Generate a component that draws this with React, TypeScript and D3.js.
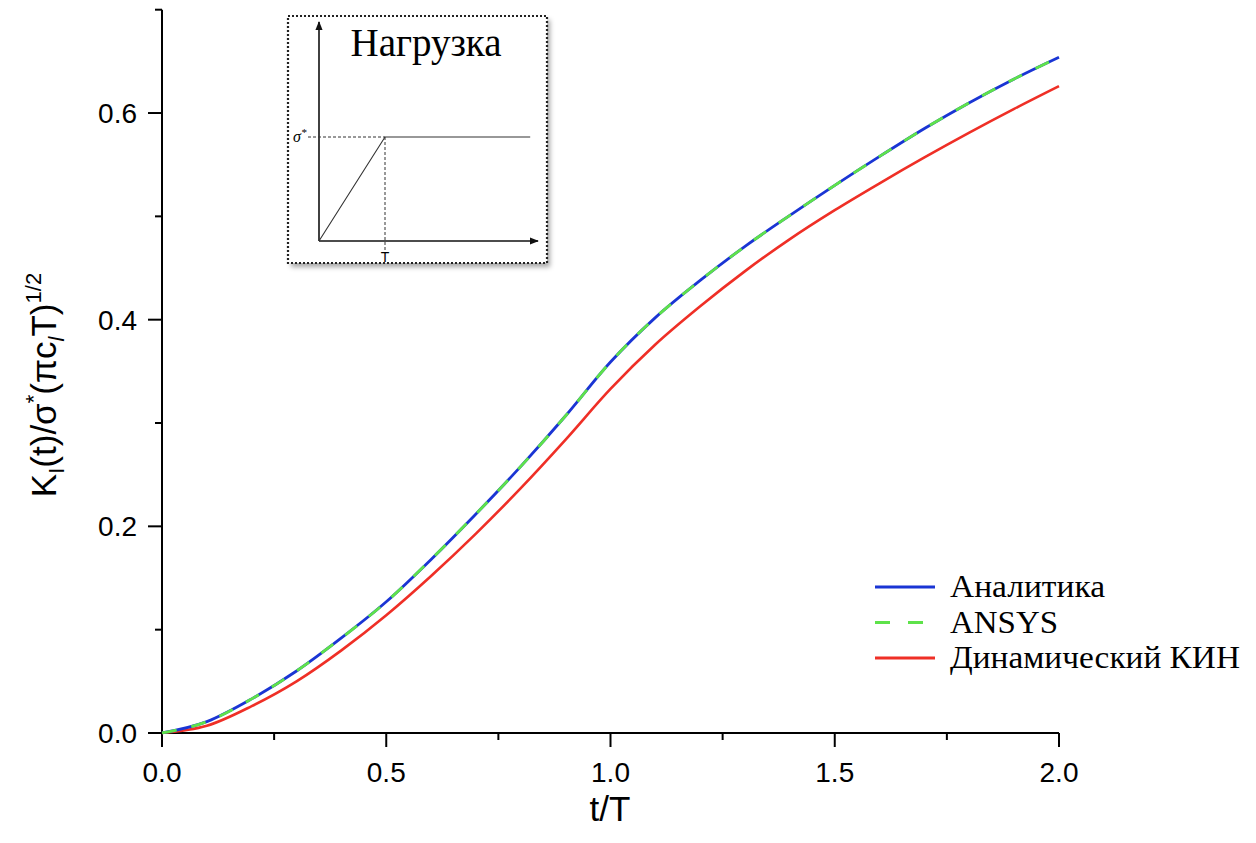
import React from "react";
import * as d3 from "d3";

// ---------- data ----------
const tValues = [0, 0.1, 0.2, 0.3, 0.4, 0.5, 0.6, 0.7, 0.8, 0.9, 1.0, 1.1, 1.2, 1.3, 1.4, 1.5, 1.6, 1.7, 1.8, 1.9, 2.0];
const analytic = [0, 0.011, 0.033, 0.06, 0.092, 0.127, 0.168, 0.212, 0.258, 0.307, 0.359, 0.402, 0.438, 0.471, 0.501, 0.53, 0.558, 0.585, 0.61, 0.633, 0.654];
const ansys = [0, 0.011, 0.033, 0.06, 0.092, 0.127, 0.168, 0.212, 0.258, 0.307, 0.359, 0.402, 0.438, 0.471, 0.501, 0.53, 0.558, 0.585, 0.61, 0.633, 0.654];
const dynamicKIN = [0, 0.007, 0.026, 0.05, 0.08, 0.114, 0.152, 0.193, 0.237, 0.284, 0.333, 0.376, 0.413, 0.447, 0.478, 0.506, 0.532, 0.557, 0.581, 0.604, 0.626];

const xMajorTicks = [0, 0.5, 1.0, 1.5, 2.0];
const xMinorTicks = [0.25, 0.75, 1.25, 1.75];
const yMajorTicks = [0, 0.2, 0.4, 0.6];
const yMinorTicks = [0.1, 0.3, 0.5, 0.7];

const seriesNames = ["Аналитика", "ANSYS", "Динамический КИН"];
const seriesColors = ["#1a35d4", "#5ee24a", "#ef2f26"];

// inset (load schematic)
const loadT = [0, 1, 3.2];
const loadS = [0, 1, 1];
const insetTitle = "Нагрузка";

export default function App() {
  const W = 1256, H = 843;
  const x = d3.scaleLinear().domain([0, 2]).range([162, 1059]);
  const y = d3.scaleLinear().domain([0, 0.7]).range([733, 9.7]);

  const line = d3
    .line<number>()
    .x((_, i) => x(tValues[i]))
    .y((d) => y(d))
    .curve(d3.curveMonotoneX);

  const sans = "'Liberation Sans', Arial, sans-serif";
  const serif = "'Liberation Serif', 'Times New Roman', serif";

  // inset scales
  const ix = d3.scaleLinear().domain([0, 1]).range([319, 385]);
  const iy = d3.scaleLinear().domain([0, 1]).range([241, 137]);
  const loadLine = d3
    .line<number>()
    .x((_, i) => ix(loadT[i]))
    .y((d) => iy(d));

  const legendY = [587, 622.5, 658];
  const legendTextLen = [155, 108, 290];

  return (
    <svg
      width={W}
      height={H}
      style={{ position: "absolute", left: 0, top: 0, background: "#fff" }}
      xmlns="http://www.w3.org/2000/svg"
    >
      <defs>
        <filter id="shadow" x="-10%" y="-10%" width="130%" height="130%">
          <feDropShadow dx="3" dy="4" stdDeviation="2.5" floodColor="#000" floodOpacity="0.35" />
        </filter>
        <marker id="arrow" viewBox="0 0 10 10" refX="9" refY="5" markerWidth="9" markerHeight="9" markerUnits="userSpaceOnUse" orient="auto">
          <path d="M0,1 L10,5 L0,9 z" fill="#111" />
        </marker>
      </defs>

      {/* axes */}
      <line x1={x(0)} x2={x(2)} y1={y(0)} y2={y(0)} stroke="#000" strokeWidth={2} />
      <line x1={x(0)} x2={x(0)} y1={y(0)} y2={y(0.7)} stroke="#000" strokeWidth={2} />

      {xMajorTicks.map((t) => (
        <g key={"xm" + t}>
          <line x1={x(t)} x2={x(t)} y1={y(0)} y2={y(0) + 14} stroke="#000" strokeWidth={2} />
          <text x={x(t)} y={782} textAnchor="middle" fontFamily={sans} fontSize={28}>
            {t.toFixed(1)}
          </text>
        </g>
      ))}
      {xMinorTicks.map((t) => (
        <line key={"xn" + t} x1={x(t)} x2={x(t)} y1={y(0)} y2={y(0) + 7} stroke="#000" strokeWidth={2} />
      ))}
      {yMajorTicks.map((v) => (
        <g key={"ym" + v}>
          <line x1={x(0) - 14} x2={x(0)} y1={y(v)} y2={y(v)} stroke="#000" strokeWidth={2} />
          <text x={137} y={y(v) + 10} textAnchor="end" fontFamily={sans} fontSize={28}>
            {v.toFixed(1)}
          </text>
        </g>
      ))}
      {yMinorTicks.map((v) => (
        <line key={"yn" + v} x1={x(0) - 7} x2={x(0)} y1={y(v)} y2={y(v)} stroke="#000" strokeWidth={2} />
      ))}

      {/* axis titles */}
      <text x={610} y={821} textAnchor="middle" fontFamily={sans} fontSize={35}>
        t/T
      </text>
      <text transform="translate(56,385) rotate(-90)" textAnchor="middle" fontFamily={sans} fontSize={35}>
        K<tspan fontSize={22} dy={8}>I</tspan>
        <tspan dy={-8}>(t)/σ</tspan>
        <tspan fontSize={22} dy={-15}>*</tspan>
        <tspan dy={15}>(πc</tspan>
        <tspan fontSize={22} dy={8} fontStyle="italic">l</tspan>
        <tspan dy={-8}>T)</tspan>
        <tspan fontSize={22} dy={-15}>1/2</tspan>
      </text>

      {/* curves */}
      <path d={line(dynamicKIN) || ""} fill="none" stroke={seriesColors[2]} strokeWidth={2.6} />
      <path d={line(analytic) || ""} fill="none" stroke={seriesColors[0]} strokeWidth={2.8} />
      <path d={line(ansys) || ""} fill="none" stroke={seriesColors[1]} strokeWidth={2.8} strokeDasharray="15,15" />

      {/* legend */}
      {seriesNames.map((name, i) => (
        <g key={name}>
          <line
            x1={875}
            x2={935}
            y1={legendY[i]}
            y2={legendY[i]}
            stroke={seriesColors[i]}
            strokeWidth={2.8}
            strokeDasharray={i === 1 ? "15,18" : undefined}
          />
          <text
            x={950}
            y={legendY[i] + 10}
            fontFamily={serif}
            fontSize={32}
            textLength={legendTextLen[i]}
            lengthAdjust="spacingAndGlyphs"
          >
            {name}
          </text>
        </g>
      ))}

      {/* inset */}
      <g>
        <rect x={288} y={16} width={259} height={247} fill="#fff" filter="url(#shadow)" />
        <rect x={288} y={16} width={259} height={247} fill="#fff" stroke="#222" strokeWidth={2.2} strokeDasharray="2,2" />
        <text x={426} y={56} textAnchor="middle" fontFamily={serif} fontSize={39}>
          {insetTitle}
        </text>
        <line x1={ix(0)} x2={ix(0)} y1={iy(0)} y2={22} stroke="#111" strokeWidth={1.6} markerEnd="url(#arrow)" />
        <line x1={ix(0)} x2={538} y1={iy(0)} y2={iy(0)} stroke="#111" strokeWidth={1.6} markerEnd="url(#arrow)" />
        <path d={loadLine(loadS) || ""} fill="none" stroke="#333" strokeWidth={1.1} />
        <line x1={308} x2={ix(1)} y1={iy(1)} y2={iy(1)} stroke="#333" strokeWidth={1} strokeDasharray="3,2" />
        <line x1={ix(1)} x2={ix(1)} y1={iy(1)} y2={iy(0) + 10} stroke="#333" strokeWidth={1} strokeDasharray="3,2" />
        <text x={293} y={142} fontFamily={serif} fontStyle="italic" fontSize={16}>
          σ<tspan fontSize={11} dy={-6}>*</tspan>
        </text>
        <text x={ix(1)} y={262} textAnchor="middle" fontFamily={sans} fontSize={14}>
          T
        </text>
      </g>
    </svg>
  );
}
